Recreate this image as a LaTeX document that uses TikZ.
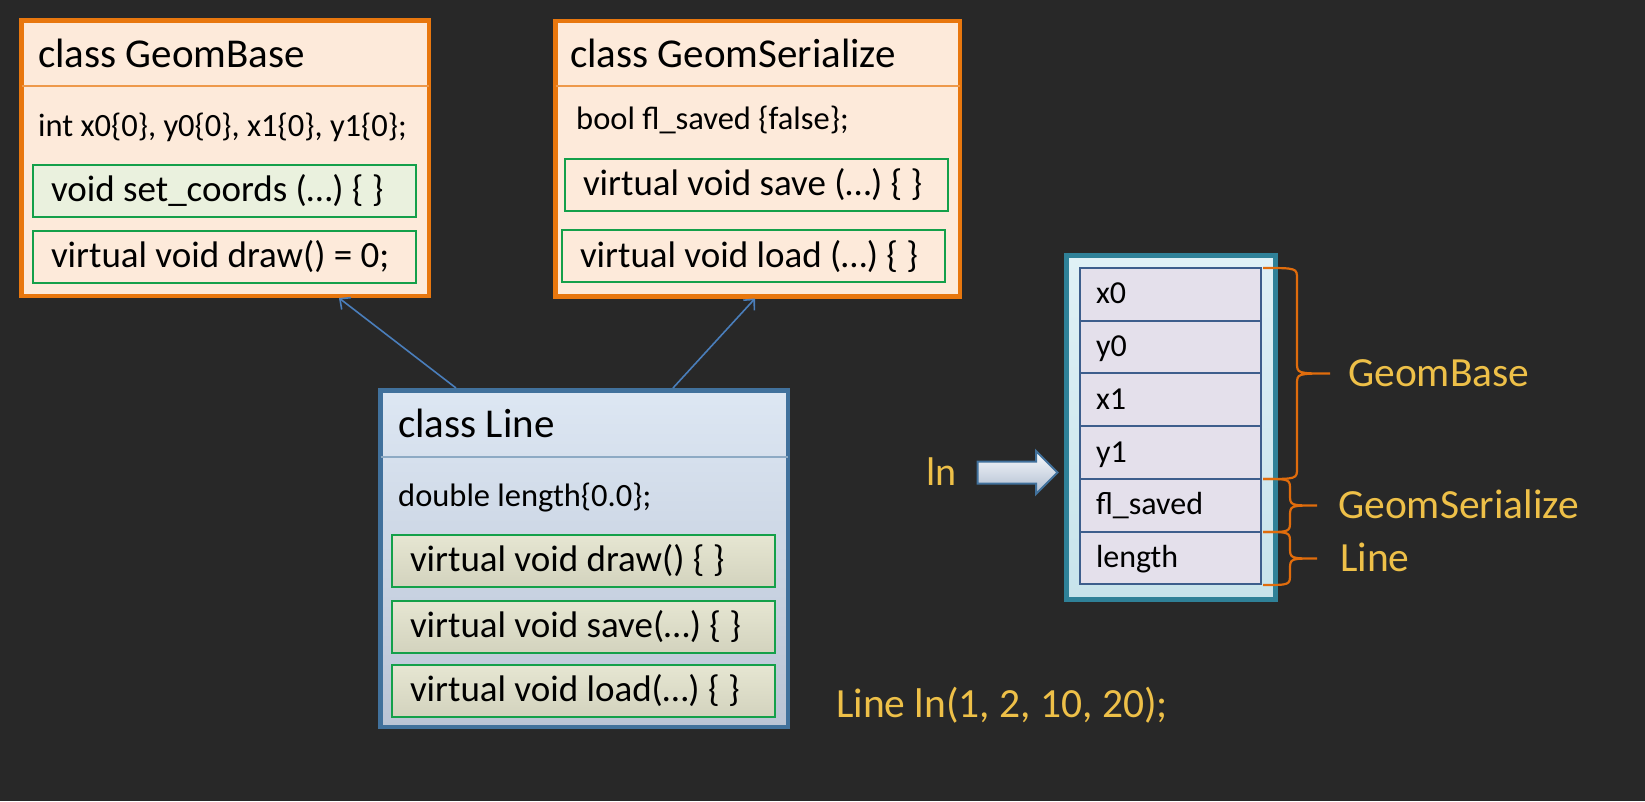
\documentclass[tikz,border=0pt]{standalone}
\usepackage{fontspec}
\setmainfont{Carlito}
\usetikzlibrary{arrows.meta, positioning, calc, shapes.arrows}
\definecolor{bgDark}{HTML}{282828}
\definecolor{mOrange}{HTML}{E8770E}
\definecolor{mPeach}{HTML}{FDEADA}
\definecolor{mGreen}{HTML}{14A04A}
\definecolor{mMint}{HTML}{EAF1DE}
\definecolor{mSteel}{HTML}{41719C}
\definecolor{lineTop}{HTML}{DDE7F3}
\definecolor{lineBot}{HTML}{BAC4D5}
\definecolor{oliveTop}{HTML}{E6E6D2}
\definecolor{oliveBot}{HTML}{D3D3BE}
\definecolor{mTeal}{HTML}{2F8198}
\definecolor{cyanTop}{HTML}{E0F1F6}
\definecolor{cyanBot}{HTML}{C7E3EB}
\definecolor{cellFill}{HTML}{E4E0EB}
\definecolor{cellEdge}{HTML}{3D5E8C}
\definecolor{braceOr}{HTML}{E06C0C}
\definecolor{gold}{HTML}{EEC048}
\definecolor{arrBlue}{HTML}{4A7EBB}

\begin{document}
\begin{tikzpicture}[
  x=1pt, y=-1pt,
  every node/.style={inner sep=0pt},
  clsbox/.style={draw=mOrange, fill=mPeach, line width=4.5pt,
                 minimum width=407.5pt, minimum height=275.5pt},
  linebox/.style={draw=mSteel, top color=lineTop, bottom color=lineBot, line width=4.5pt,
                  minimum width=407.5pt, minimum height=336.5pt},
  title/.style={anchor=west, text height=31pt, text depth=6pt,
                font=\fontsize{41}{48}\selectfont},
  field/.style={anchor=west, text height=24.4pt, text depth=4.9pt,
                font=\fontsize{32.5}{38}\selectfont},
  meth/.style={draw=mGreen, fill=mPeach, line width=2pt, minimum height=52pt,
               text width=347pt, inner xsep=18pt, align=flush left,
               text height=28pt, text depth=5.6pt, font=\fontsize{37}{44}\selectfont},
  methl/.style={meth, top color=oliveTop, bottom color=oliveBot},
  sepline/.style={draw=mOrange!75, line width=1.2pt},
  membox/.style={draw=mTeal, line width=5pt, top color=cyanTop, bottom color=cyanBot,
                 minimum width=209pt, minimum height=344pt},
  cell/.style={draw=cellEdge, fill=cellFill, line width=2pt, minimum height=52.7pt,
               text width=149pt, inner xsep=16pt, align=flush left,
               text height=24pt, text depth=4.8pt, font=\fontsize{32}{38}\selectfont},
  brc/.style={draw=braceOr, line width=2.2pt},
  lbl/.style={anchor=west, text=gold, text height=31pt, text depth=6pt,
              font=\fontsize{41.5}{48}\selectfont},
  inh/.style={-{Straight Barb[length=8pt, width=15pt]}, draw=arrBlue, line width=1.6pt},
  blockarr/.style={single arrow, draw=mSteel, line width=2pt, top color=white!85!lineTop,
                   bottom color=lineBot!90!mSteel, inner ysep=10pt, minimum height=80pt,
                   single arrow head extend=10.5pt},
]
  \fill[bgDark] (0,0) rectangle (1645,801);
  \useasboundingbox (0,0) rectangle (1645,801);

  % base classes
  \node[clsbox] (gb) at (225,158) {};
  \node[title] (gbtitle) at (38,55) {class GeomBase};
  \draw[sepline] (21.5,86) -- (428.5,86);
  \node[field] (gbfield) at (38,127) {int x0\{0\}, y0\{0\}, x1\{0\}, y1\{0\};};
  \node[meth, fill=mMint] (gbset) at (224.5,190.5) {void set\_coords (…) \{ \}};
  \node[meth, below=12pt of gbset] (gbdraw) {virtual void draw() = 0;};

  \node[clsbox, minimum width=404.5pt] (gs) at (757.5,158.5) {};
  \node[title] (gstitle) at (570,55) {class GeomSerialize};
  \draw[sepline] (555.5,86) -- (959.5,86);
  \node[field] (gsfield) at (576,120) {bool fl\_saved \{false\};};
  \node[meth] (gssave) at (756.5,184.5) {virtual void save (…) \{ \}};
  \node[meth] (gsload) at (753.5,256) {virtual void load (…) \{ \}};

  % derived class
  \node[linebox] (line) at (584,558.5) {};
  \node[title] (linetitle) at (398,425) {class Line};
  \draw[draw=mSteel!60, line width=1.2pt] (380.5,457) -- (787.5,457);
  \node[field] (linefield) at (398,497) {double length\{0.0\};};
  \node[methl] (ldraw) at (583.5,560.5) {virtual void draw() \{ \}};
  \node[methl, below=12pt of ldraw] (lsave) {virtual void save(…) \{ \}};
  \node[methl, below=10pt of lsave] (lload) {virtual void load(…) \{ \}};

  \draw[inh] ($(line.north west)+(78,0)$) -- ($(gb.south west)+(320,0)$);
  \draw[inh] ($(line.north west)+(295,0)$) -- ($(gs.south west)+(202,0)$);

  % object layout
  \node[membox] (mem) at (1171,427.5) {};
  \foreach \fld [count=\i from 0] in {x0,y0,x1,y1,fl\_saved,length}
    \node[cell] (cell\i) at (1170.5,{294.35+52.7*\i}) {\fld};

  \foreach \ya/\yb/\xs/\xt [count=\n] in {268/479/1297/1330, 479/532/1290/1317, 532/585/1290/1317}{
    \pgfmathsetmacro\ym{(\ya+\yb)/2}
    \draw[brc] (1263,\ya) .. controls (\xs,\ya) .. (\xs,\ya+11) -- (\xs,\ym-11)
      .. controls (\xs,\ym) .. (\xt,\ym) coordinate (tip\n)
      .. controls (\xs,\ym) .. (\xs,\ym+11) -- (\xs,\yb-11)
      .. controls (\xs,\yb) .. (1263,\yb);
  }
  \node[lbl, right=18pt of tip1] (lbase) {GeomBase};
  \node[lbl, right=21pt of tip2] (lser) {GeomSerialize};
  \node[lbl, right=23pt of tip3] (lline) {Line};

  \node[blockarr] (lnarrow) at (1012,472.5) {};
  \node[lbl, left=20pt of lnarrow, font=\fontsize{40}{46}\selectfont] (lnname) {ln};
  \node[lbl] (decl) at (836,705) {Line ln(1, 2, 10, 20);};
\end{tikzpicture}
\end{document}
